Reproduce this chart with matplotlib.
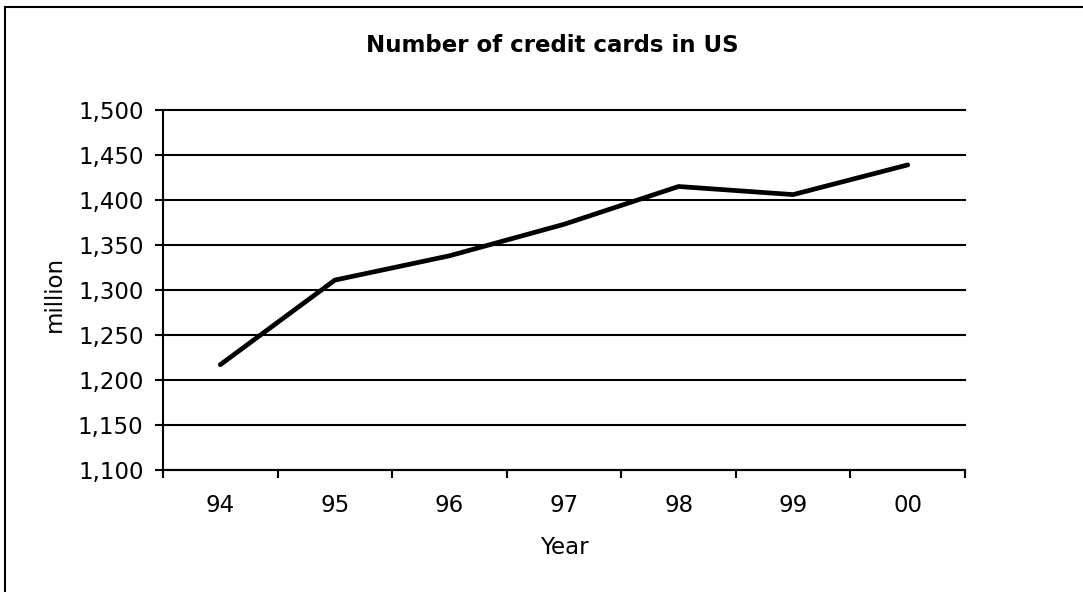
import matplotlib.pyplot as plt
import numpy as np
from matplotlib.patches import Rectangle

plt.rcParams['font.family'] = ['DejaVu Sans']

# data
years = ['94', '95', '96', '97', '98', '99', '00']
cards = [1217, 1311, 1338, 1373, 1415, 1406, 1439]
yticks = [1100, 1150, 1200, 1250, 1300, 1350, 1400, 1450, 1500]

fs = 16.5

fig = plt.figure(figsize=(10.83, 5.92), dpi=100)
ax = fig.add_axes([163 / 1083, 122 / 592, 802 / 1083, 360 / 592])

x = np.arange(len(years))
ax.plot(x, cards, color='black', linewidth=3.4, solid_capstyle='round', zorder=3)

# y axis
ax.set_ylim(1100, 1500)
ax.set_yticks(yticks)
ax.set_yticklabels([f'{v:,}' for v in yticks], fontsize=fs)
ax.yaxis.grid(True, color='black', linewidth=1.5)
ax.set_axisbelow(True)
for gl in ax.get_ygridlines():
    gl.set_clip_on(False)

# x axis: ticks between categories, labels centred
ax.set_xlim(-0.5, len(years) - 0.5)
ax.set_xticks(np.arange(-0.5, len(years), 1.0))
ax.set_xticklabels([])
ax.set_xticks(x, minor=True)
ax.set_xticklabels(years, minor=True, fontsize=fs)
ax.tick_params(axis='x', which='minor', length=0, pad=17.5)
ax.tick_params(axis='both', which='major', length=6, width=1.5, color='black')
ax.tick_params(axis='y', pad=8)

for s in ['top', 'right']:
    ax.spines[s].set_visible(False)
for s in ['left', 'bottom']:
    ax.spines[s].set_linewidth(1.5)

ax.set_xlabel('Year', fontsize=fs, va='center')
ax.xaxis.set_label_coords(0.5, -0.215)
ax.set_ylabel('million', fontsize=fs, va='center')
ax.yaxis.set_label_coords(-0.136, 0.49)

fig.text(552 / 1083, 1 - 45 / 592, 'Number of credit cards in US', fontsize=fs,
         fontweight='bold', ha='center', va='center')

# outer chart border
fig.patches.append(Rectangle((5 / 1083, -0.1), 1.2, (592 - 7) / 592 + 0.1,
                             transform=fig.transFigure, fill=False,
                             edgecolor='black', linewidth=1.5))

fig.savefig('out.png', dpi=100)
